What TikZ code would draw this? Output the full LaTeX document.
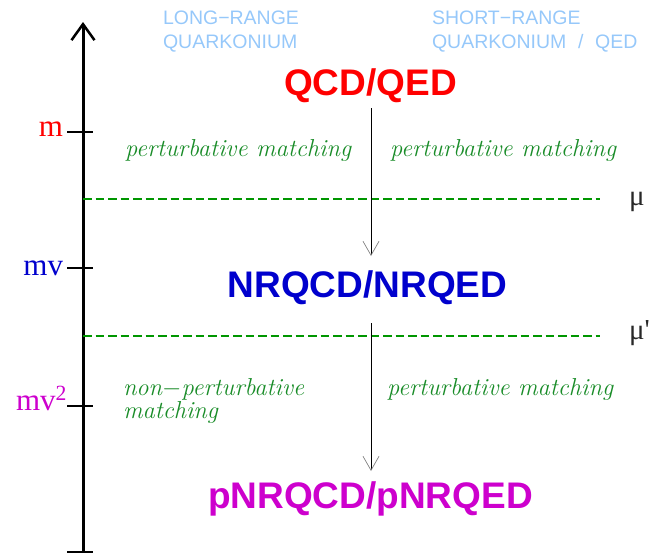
\documentclass[tikz,border=0pt]{standalone}
\usepackage{fontspec}
\newfontfamily\arial{Liberation Sans}
\newfontfamily\tms{Liberation Serif}[Ligatures=TeXOff]
\usetikzlibrary{arrows.meta}
\definecolor{hdrblue}{RGB}{150,200,250}
\definecolor{qcdred}{RGB}{255,0,0}
\definecolor{nrblue}{RGB}{0,0,205}
\definecolor{pnmag}{RGB}{205,0,205}
\definecolor{matchgreen}{RGB}{25,140,40}
\definecolor{dashgreen}{RGB}{0,150,0}
\definecolor{mublack}{RGB}{40,40,40}
\begin{document}
\begin{tikzpicture}[x=1pt,y=-1pt,
  lbl/.style={inner sep=0pt, outer sep=0pt},
  header/.style={lbl, anchor=north west, align=left, text=hdrblue, font=\arial\fontsize{19.5}{24}\selectfont},
  theory/.style={lbl, anchor=base, font=\arial\bfseries\fontsize{37}{40}\selectfont, text height=27pt, text depth=0pt},
  match/.style={lbl, anchor=base west, text=matchgreen, font=\itshape\fontsize{24.5}{23}\selectfont},
  scalelbl/.style={lbl, anchor=base east, font=\tms\fontsize{31}{33}\selectfont},
  mulbl/.style={lbl, anchor=base west, text=mublack, font=\tms\fontsize{29}{30}\selectfont},
  sepline/.style={dashgreen, line width=2.5pt, dash pattern=on 8.5pt off 4pt},
  tickmark/.style={line width=2pt},
  flow/.style={line width=0.9pt, -{Straight Barb[length=14pt,width=16pt,line width=0.7pt,color=gray]}},
]
\useasboundingbox (0,0) rectangle (654,554);

% energy axis
\coordinate (axtop) at (83,22);
\coordinate (axbot) at (83,552);
\draw[line width=3pt, -{Straight Barb[length=16pt,width=23pt,line width=2.5pt]}] (axbot) -- (axtop);
\draw[tickmark] (axbot) +(-16,0) -- +(10,0);

% scale ticks and labels
\coordinate (tm) at (83,132);
\coordinate (tmv) at (83,268);
\coordinate (tmvv) at (83,406);
\draw[tickmark] (tm) +(-16,0) -- +(10,0);
\draw[tickmark] (tmv) +(-16,0) -- +(10,0);
\draw[tickmark] (tmvv) +(-16,0) -- +(10,0);
\node[scalelbl, text=qcdred] (lm) at (63,136) {m};
\node[scalelbl, text=nrblue] (lmv) at (63,275) {mv};
\node[scalelbl, text=pnmag] (lmvv) at (67,410) {mv\textsuperscript{2}};

% separators
\coordinate (d1a) at (83,199);
\coordinate (d1b) at (600,199);
\coordinate (d2a) at (83,336);
\coordinate (d2b) at (600,336);
\draw[sepline] (d1a) -- (d1b);
\draw[sepline] (d2a) -- (d2b);
\node[mulbl] (mu) at (629,205) {μ};
\node[mulbl] (mup) at (629,339) {μ'};

% headers
\node[header] (lr) at (163,10.5) {LONG−RANGE\\QUARKONIUM};
\node[header] (sr) at (432,10.5) {SHORT−RANGE\\QUARKONIUM\hspace{0.6em}/\hspace{0.6em}QED};

% theories
\node[theory, text=qcdred] (qcd) at (370.5,95) {QCD/QED};
\node[theory, text=nrblue] (nrqcd) at (367.5,297) {NRQCD/NRQED};
\node[theory, text=pnmag] (pnrqcd) at (370.5,508) {pNRQCD/pNRQED};

% matching arrows
\coordinate (ax) at (371,0);
\draw[flow, shorten <=13pt, shorten >=14pt] (ax |- qcd.south) -- (ax |- nrqcd.north);
\draw[flow, shorten <=26pt, shorten >=10pt] (ax |- nrqcd.south) -- (ax |- pnrqcd.north);

% matching labels
\node[match] (pm1) at (125,156) {perturbative matching};
\node[match] (pm2) at (390,156) {perturbative matching};
\node[match] (pm3) at (387,395) {perturbative matching};
\node[match, anchor=north west, align=left] (npm) at (123,378) {non$-$perturbative\\matching};
\end{tikzpicture}
\end{document}
